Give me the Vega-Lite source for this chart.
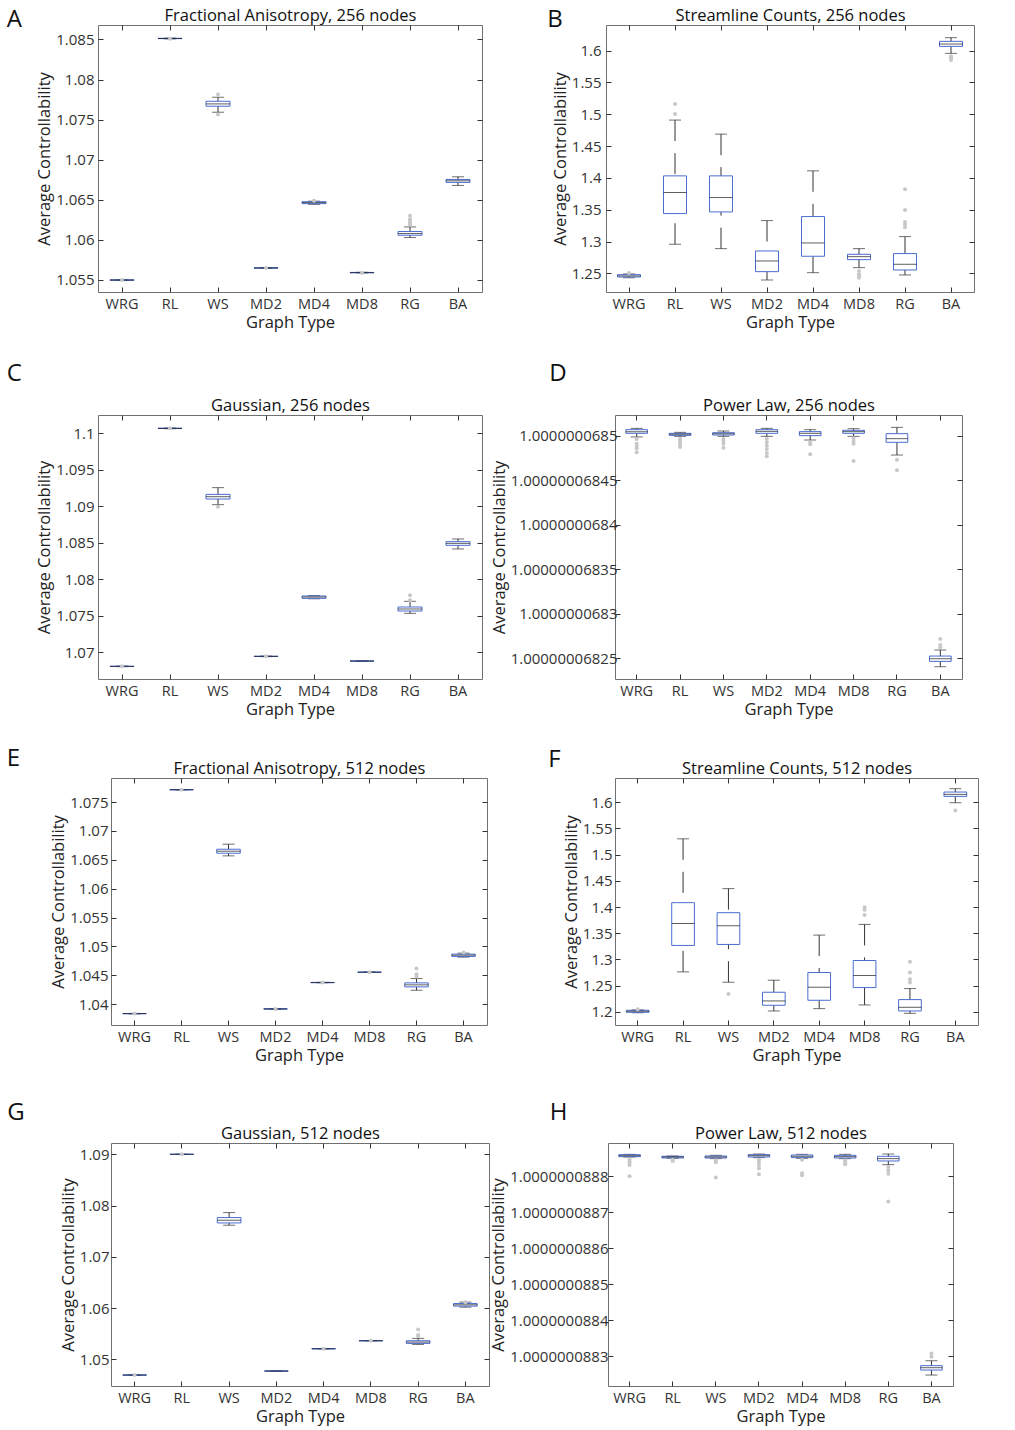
{
"$schema": "https://vega.github.io/schema/vega-lite/v6.json",
"background": "white",
"padding": {"top": 7, "left": 5, "right": 10, "bottom": 4},
"config": {
 "font": "Open Sans",
 "view": {"stroke": "#707070", "strokeWidth": 1},
 "axis": {"grid": false, "domain": false, "labelFont": "Open Sans", "titleFont": "Open Sans", "labelColor": "#333", "titleColor": "#222", "tickColor": "#333", "labelFontSize": 15, "titleFontSize": 16.5, "titleFontWeight": "normal", "tickSize": -5},
 "title": {"font": "Open Sans", "fontWeight": "normal", "color": "#111"},
 "tick": {"thickness": 1}
},
"datasets": {
 "A": [
  {"g":"WRG","lw":1.05493,"q1":1.05496,"med":1.05499,"q3":1.05502,"uw":1.05505},
  {"g":"RL","lw":1.08507,"q1":1.0851,"med":1.08512,"q3":1.08514,"uw":1.08517},
  {"g":"WS","lw":1.07592,"q1":1.07667,"med":1.07696,"q3":1.07729,"uw":1.07779},
  {"g":"MD2","lw":1.05646,"q1":1.05648,"med":1.0565,"q3":1.05652,"uw":1.05654},
  {"g":"MD4","lw":1.06443,"q1":1.06452,"med":1.06465,"q3":1.06476,"uw":1.06483},
  {"g":"MD8","lw":1.05588,"q1":1.0559,"med":1.05592,"q3":1.05594,"uw":1.05596},
  {"g":"RG","lw":1.06029,"q1":1.06058,"med":1.06079,"q3":1.06104,"uw":1.06162},
  {"g":"BA","lw":1.06679,"q1":1.06717,"med":1.06737,"q3":1.06754,"uw":1.06787}
 ],
 "A_out": [
  {"g":"WRG","v":1.05499},{"g":"RL","v":1.0851},{"g":"WS","v":1.07812},{"g":"WS","v":1.07563},
  {"g":"MD2","v":1.0565},{"g":"MD4","v":1.06487},{"g":"MD8","v":1.05588},
  {"g":"RG","v":1.063},{"g":"RG","v":1.06258},{"g":"RG","v":1.0624},{"g":"RG","v":1.0622},{"g":"RG","v":1.062},{"g":"RG","v":1.0619}
 ],
 "B": [
  {"g":"WRG","lw":1.243,"q1":1.2442,"med":1.2459,"q3":1.2479,"uw":1.249},
  {"g":"RL","lw":1.2957,"q1":1.3439,"med":1.377,"q3":1.4032,"uw":1.4909},
  {"g":"WS","lw":1.2888,"q1":1.3465,"med":1.3691,"q3":1.4032,"uw":1.4688},
  {"g":"MD2","lw":1.2395,"q1":1.2526,"med":1.2694,"q3":1.2851,"uw":1.3329},
  {"g":"MD4","lw":1.251,"q1":1.2768,"med":1.2977,"q3":1.3392,"uw":1.4111},
  {"g":"MD8","lw":1.2589,"q1":1.2715,"med":1.2762,"q3":1.2799,"uw":1.2888},
  {"g":"RG","lw":1.2474,"q1":1.2552,"med":1.2642,"q3":1.281,"uw":1.3077},
  {"g":"BA","lw":1.5958,"q1":1.6068,"med":1.6105,"q3":1.6147,"uw":1.6205}
 ],
 "B_out": [
  {"g":"WRG","v":1.2505},{"g":"RL","v":1.516},{"g":"RL","v":1.5003},
  {"g":"MD8","v":1.2537},{"g":"MD8","v":1.2485},{"g":"MD8","v":1.2455},{"g":"MD8","v":1.2432},
  {"g":"RG","v":1.3822},{"g":"RG","v":1.3497},{"g":"RG","v":1.3308},{"g":"RG","v":1.3266},{"g":"RG","v":1.3224},
  {"g":"BA","v":1.5911},{"g":"BA","v":1.588},{"g":"BA","v":1.5853}
 ],
 "C": [
  {"g":"WRG","lw":1.06804,"q1":1.06806,"med":1.06808,"q3":1.0681,"uw":1.06812},
  {"g":"RL","lw":1.10063,"q1":1.10066,"med":1.10068,"q3":1.1007,"uw":1.10073},
  {"g":"WS","lw":1.09023,"q1":1.091,"med":1.09132,"q3":1.09164,"uw":1.09256},
  {"g":"MD2","lw":1.06941,"q1":1.06943,"med":1.06945,"q3":1.06947,"uw":1.06949},
  {"g":"MD4","lw":1.07734,"q1":1.0774,"med":1.07758,"q3":1.07772,"uw":1.07778},
  {"g":"MD8","lw":1.06879,"q1":1.0688,"med":1.06881,"q3":1.06882,"uw":1.06883},
  {"g":"RG","lw":1.07534,"q1":1.07566,"med":1.07594,"q3":1.07621,"uw":1.07699},
  {"g":"BA","lw":1.08416,"q1":1.08466,"med":1.08493,"q3":1.08516,"uw":1.08553}
 ],
 "C_out": [
  {"g":"WRG","v":1.06808},{"g":"RL","v":1.10068},{"g":"WS","v":1.08995},{"g":"MD2","v":1.06945},
  {"g":"RG","v":1.07781},{"g":"RG","v":1.07712}
 ],
 "D": [
  {"g":"WRG","lw":1.0000000684989,"q1":1.000000068503,"med":1.0000000685049,"q3":1.0000000685071,"uw":1.0000000685086},
  {"g":"RL","lw":1.0000000684996,"q1":1.0000000685007,"med":1.0000000685019,"q3":1.000000068503,"uw":1.0000000685041},
  {"g":"WS","lw":1.0000000684996,"q1":1.0000000685011,"med":1.0000000685026,"q3":1.0000000685037,"uw":1.0000000685056},
  {"g":"MD2","lw":1.0000000684996,"q1":1.000000068503,"med":1.0000000685052,"q3":1.0000000685071,"uw":1.0000000685086},
  {"g":"MD4","lw":1.0000000684955,"q1":1.0000000685004,"med":1.000000068503,"q3":1.0000000685049,"uw":1.0000000685071},
  {"g":"MD8","lw":1.0000000684996,"q1":1.000000068503,"med":1.0000000685049,"q3":1.0000000685064,"uw":1.0000000685082},
  {"g":"RG","lw":1.0000000684786,"q1":1.0000000684929,"med":1.000000068497,"q3":1.0000000685026,"uw":1.0000000685097},
  {"g":"BA","lw":1.0000000682406,"q1":1.0000000682466,"med":1.0000000682496,"q3":1.0000000682526,"uw":1.0000000682594}
 ],
 "D_out": [
  {"g":"WRG","v":1.0000000684966},{"g":"WRG","v":1.0000000684914},{"g":"WRG","v":1.0000000684888},{"g":"WRG","v":1.0000000684861},{"g":"WRG","v":1.0000000684816},
  {"g":"RL","v":1.0000000684966},{"g":"RL","v":1.0000000684936},{"g":"RL","v":1.0000000684906},{"g":"RL","v":1.0000000684876},
  {"g":"WS","v":1.0000000684966},{"g":"WS","v":1.0000000684944},{"g":"WS","v":1.0000000684914},{"g":"WS","v":1.0000000684869},
  {"g":"MD2","v":1.0000000684966},{"g":"MD2","v":1.0000000684929},{"g":"MD2","v":1.0000000684891},{"g":"MD2","v":1.0000000684854},{"g":"MD2","v":1.0000000684809},{"g":"MD2","v":1.0000000684771},
  {"g":"MD4","v":1.0000000684929},{"g":"MD4","v":1.0000000684906},{"g":"MD4","v":1.0000000684794},
  {"g":"MD8","v":1.0000000684974},{"g":"MD8","v":1.0000000684944},{"g":"MD8","v":1.0000000684914},{"g":"MD8","v":1.0000000684719},
  {"g":"RG","v":1.0000000684734},{"g":"RG","v":1.0000000684614},
  {"g":"BA","v":1.0000000682717},{"g":"BA","v":1.0000000682649},{"g":"BA","v":1.0000000682624}
 ],
 "E": [
  {"g":"WRG","lw":1.03834,"q1":1.03836,"med":1.03838,"q3":1.0384,"uw":1.03842},
  {"g":"RL","lw":1.0771,"q1":1.07712,"med":1.07714,"q3":1.07716,"uw":1.07718},
  {"g":"WS","lw":1.06569,"q1":1.06615,"med":1.0665,"q3":1.06684,"uw":1.06771},
  {"g":"MD2","lw":1.03915,"q1":1.03917,"med":1.03919,"q3":1.03921,"uw":1.03923},
  {"g":"MD4","lw":1.04372,"q1":1.04374,"med":1.04376,"q3":1.04378,"uw":1.0438},
  {"g":"MD8","lw":1.04551,"q1":1.04553,"med":1.04555,"q3":1.04557,"uw":1.04559},
  {"g":"RG","lw":1.04243,"q1":1.04301,"med":1.04336,"q3":1.0437,"uw":1.04445},
  {"g":"BA","lw":1.04816,"q1":1.04828,"med":1.0485,"q3":1.04868,"uw":1.04885}
 ],
 "E_out": [
  {"g":"WRG","v":1.03838},{"g":"RL","v":1.07714},{"g":"MD2","v":1.03919},{"g":"MD4","v":1.04376},{"g":"MD8","v":1.04555},
  {"g":"RG","v":1.04619},{"g":"RG","v":1.04521},{"g":"RG","v":1.0448},{"g":"BA","v":1.04897}
 ],
 "F": [
  {"g":"WRG","lw":1.1985,"q1":1.19936,"med":1.20127,"q3":1.20318,"uw":1.204},
  {"g":"RL","lw":1.27643,"q1":1.32675,"med":1.36879,"q3":1.40828,"uw":1.52994},
  {"g":"WS","lw":1.25669,"q1":1.32866,"med":1.36433,"q3":1.38917,"uw":1.43503},
  {"g":"MD2","lw":1.20191,"q1":1.21274,"med":1.22102,"q3":1.23758,"uw":1.26051},
  {"g":"MD4","lw":1.20637,"q1":1.22229,"med":1.24713,"q3":1.27516,"uw":1.3465},
  {"g":"MD8","lw":1.21338,"q1":1.2465,"med":1.26943,"q3":1.29809,"uw":1.36688},
  {"g":"RG","lw":1.19745,"q1":1.20191,"med":1.20892,"q3":1.22357,"uw":1.24459},
  {"g":"BA","lw":1.59873,"q1":1.61083,"med":1.61465,"q3":1.61911,"uw":1.62548}
 ],
 "F_out": [
  {"g":"WRG","v":1.205},{"g":"WS","v":1.23439},
  {"g":"MD8","v":1.39936},{"g":"MD8","v":1.3949},{"g":"MD8","v":1.38471},
  {"g":"RG","v":1.29554},{"g":"RG","v":1.27516},{"g":"RG","v":1.26242},{"g":"RG","v":1.25605},
  {"g":"BA","v":1.58408}
 ],
 "G": [
  {"g":"WRG","lw":1.04691,"q1":1.04693,"med":1.04695,"q3":1.04697,"uw":1.04699},
  {"g":"RL","lw":1.08996,"q1":1.08998,"med":1.09,"q3":1.09002,"uw":1.09004},
  {"g":"WS","lw":1.07617,"q1":1.07662,"med":1.07714,"q3":1.07766,"uw":1.07864},
  {"g":"MD2","lw":1.04769,"q1":1.04771,"med":1.04773,"q3":1.04775,"uw":1.04777},
  {"g":"MD4","lw":1.05204,"q1":1.05206,"med":1.05208,"q3":1.0521,"uw":1.05212},
  {"g":"MD8","lw":1.0536,"q1":1.05362,"med":1.05364,"q3":1.05366,"uw":1.05368},
  {"g":"RG","lw":1.05292,"q1":1.05312,"med":1.05338,"q3":1.05364,"uw":1.05409},
  {"g":"BA","lw":1.06019,"q1":1.06039,"med":1.06065,"q3":1.06091,"uw":1.06117}
 ],
 "G_out": [
  {"g":"WRG","v":1.04695},{"g":"RL","v":1.09},{"g":"MD4","v":1.05208},{"g":"MD8","v":1.05364},
  {"g":"RG","v":1.05584},{"g":"RG","v":1.05474},{"g":"RG","v":1.0545},{"g":"BA","v":1.06117}
 ],
 "H": [
  {"g":"WRG","lw":1.0000000888537,"q1":1.0000000888546,"med":1.0000000888574,"q3":1.0000000888602,"uw":1.0000000888611},
  {"g":"RL","lw":1.00000008885,"q1":1.0000000888509,"med":1.0000000888537,"q3":1.0000000888556,"uw":1.0000000888565},
  {"g":"WS","lw":1.0000000888491,"q1":1.0000000888509,"med":1.0000000888537,"q3":1.0000000888565,"uw":1.0000000888583},
  {"g":"MD2","lw":1.0000000888519,"q1":1.0000000888537,"med":1.0000000888574,"q3":1.0000000888602,"uw":1.000000088862},
  {"g":"MD4","lw":1.00000008885,"q1":1.0000000888519,"med":1.0000000888556,"q3":1.0000000888593,"uw":1.0000000888611},
  {"g":"MD8","lw":1.0000000888491,"q1":1.0000000888509,"med":1.0000000888546,"q3":1.0000000888583,"uw":1.0000000888611},
  {"g":"RG","lw":1.0000000888324,"q1":1.0000000888426,"med":1.0000000888491,"q3":1.0000000888556,"uw":1.000000088862},
  {"g":"BA","lw":1.0000000882472,"q1":1.0000000882611,"med":1.0000000882676,"q3":1.0000000882732,"uw":1.000000088287}
 ],
 "H_out": [
  {"g":"WRG","v":1.0000000888463},{"g":"WRG","v":1.0000000888389},{"g":"WRG","v":1.0000000888315},{"g":"WRG","v":1.0000000888},
  {"g":"RL","v":1.0000000888463},{"g":"RL","v":1.0000000888426},
  {"g":"WS","v":1.0000000888444},{"g":"WS","v":1.0000000888389},{"g":"WS","v":1.0000000887963},
  {"g":"MD2","v":1.0000000888463},{"g":"MD2","v":1.0000000888389},{"g":"MD2","v":1.0000000888315},{"g":"MD2","v":1.0000000888222},{"g":"MD2","v":1.0000000888056},
  {"g":"MD4","v":1.0000000888463},{"g":"MD4","v":1.0000000888083},{"g":"MD4","v":1.0000000888028},
  {"g":"MD8","v":1.0000000888444},{"g":"MD8","v":1.0000000888389},{"g":"MD8","v":1.0000000888333},
  {"g":"RG","v":1.0000000888259},{"g":"RG","v":1.0000000888167},{"g":"RG","v":1.0000000888074},{"g":"RG","v":1.0000000887296},
  {"g":"BA","v":1.0000000883074},{"g":"BA","v":1.0000000882981}
 ],
 "none": []
},
"spacing": 29,
"vconcat": [
 {"spacing": 0, "hconcat": [
 {"width": 1, "height": 1, "view": {"stroke": null}, "data": {"name": "none"}, "mark": {"type": "point", "opacity": 0}, "encoding": {}},
 {"hconcat": [
  {"title": {"text": "A", "anchor": "start", "frame": "bounds", "fontSize": 24, "offset": 0, "dx": -30, "dy": 24.3},
   "width": 384, "height": 267,
   "resolve": {"axis": {"x": "independent", "y": "independent"}},
   "layer": [
    {"data": {"name": "A"}, "mark": {"type": "rule", "color": "#333", "strokeDash": [21, 12]},
     "encoding": {"x": {"field": "g", "type": "nominal", "scale": {"domain": ["WRG","RL","WS","MD2","MD4","MD8","RG","BA"], "paddingInner": 0, "paddingOuter": 0}, "axis": {"orient": "bottom", "labelAngle": 0, "labelPadding": 10, "labelFontSize": 14.5, "title": "Graph Type", "titlePadding": 4}},
      "y": {"field": "lw", "type": "quantitative", "scale": {"domain": [1.0535, 1.0868], "nice": false, "zero": false}, "axis": {"orient": "left", "values": [1.055,1.06,1.065,1.07,1.075,1.08,1.085], "format": ".3~f", "labelPadding": 9, "title": "Average Controllability", "titlePadding": 3}},
      "y2": {"field": "q1"}}},
    {"data": {"name": "A"}, "mark": {"type": "rule", "color": "#333", "strokeDash": [21, 12]},
     "encoding": {"x": {"field": "g", "type": "nominal", "scale": {"domain": ["WRG","RL","WS","MD2","MD4","MD8","RG","BA"], "paddingInner": 0, "paddingOuter": 0}, "axis": null},
      "y": {"field": "uw", "type": "quantitative", "scale": {"domain": [1.0535, 1.0868], "nice": false, "zero": false}, "axis": null},
      "y2": {"field": "q3"}}},
    {"data": {"name": "A"}, "mark": {"type": "tick", "size": 12, "color": "#333"},
     "encoding": {"x": {"field": "g", "type": "nominal", "scale": {"domain": ["WRG","RL","WS","MD2","MD4","MD8","RG","BA"], "paddingInner": 0, "paddingOuter": 0}, "axis": null},
      "y": {"field": "lw", "type": "quantitative", "scale": {"domain": [1.0535, 1.0868], "nice": false, "zero": false}, "axis": null}}},
    {"data": {"name": "A"}, "mark": {"type": "tick", "size": 12, "color": "#333"},
     "encoding": {"x": {"field": "g", "type": "nominal", "scale": {"domain": ["WRG","RL","WS","MD2","MD4","MD8","RG","BA"], "paddingInner": 0, "paddingOuter": 0}, "axis": null},
      "y": {"field": "uw", "type": "quantitative", "scale": {"domain": [1.0535, 1.0868], "nice": false, "zero": false}, "axis": null}}},
    {"data": {"name": "A"}, "mark": {"type": "bar", "filled": false, "color": "#4a6ccf", "strokeWidth": 1, "width": {"band": 0.5}},
     "encoding": {"x": {"field": "g", "type": "nominal", "scale": {"domain": ["WRG","RL","WS","MD2","MD4","MD8","RG","BA"], "paddingInner": 0, "paddingOuter": 0}, "axis": null},
      "y": {"field": "q1", "type": "quantitative", "scale": {"domain": [1.0535, 1.0868], "nice": false, "zero": false}, "axis": null},
      "y2": {"field": "q3"}}},
    {"data": {"name": "A"}, "mark": {"type": "tick", "size": 24, "color": "#1a1a1a"},
     "encoding": {"x": {"field": "g", "type": "nominal", "scale": {"domain": ["WRG","RL","WS","MD2","MD4","MD8","RG","BA"], "paddingInner": 0, "paddingOuter": 0}, "axis": {"orient": "top", "labels": false, "title": "Fractional Anisotropy, 256 nodes", "titlePadding": 1, "titleColor": "#111"}},
      "y": {"field": "med", "type": "quantitative", "scale": {"domain": [1.0535, 1.0868], "nice": false, "zero": false}, "axis": {"orient": "right", "values": [1.055,1.06,1.065,1.07,1.075,1.08,1.085], "labels": false, "title": null, "minExtent": 0}}}},
    {"data": {"name": "A_out"}, "mark": {"type": "circle", "size": 16, "color": "#c8c8c8", "opacity": 1},
     "encoding": {"x": {"field": "g", "type": "nominal", "scale": {"domain": ["WRG","RL","WS","MD2","MD4","MD8","RG","BA"], "paddingInner": 0, "paddingOuter": 0}, "axis": null},
      "y": {"field": "v", "type": "quantitative", "scale": {"domain": [1.0535, 1.0868], "nice": false, "zero": false}, "axis": null}}}
   ]},
  {"title": {"text": "B", "anchor": "start", "frame": "bounds", "fontSize": 24, "offset": 0, "dx": -5, "dy": 24.3},
   "width": 368, "height": 267,
   "resolve": {"axis": {"x": "independent", "y": "independent"}},
   "layer": [
    {"data": {"name": "B"}, "mark": {"type": "rule", "color": "#333", "strokeDash": [21, 12]},
     "encoding": {"x": {"field": "g", "type": "nominal", "scale": {"domain": ["WRG","RL","WS","MD2","MD4","MD8","RG","BA"], "paddingInner": 0, "paddingOuter": 0}, "axis": {"orient": "bottom", "labelAngle": 0, "labelPadding": 10, "labelFontSize": 14.5, "title": "Graph Type", "titlePadding": 4}},
      "y": {"field": "lw", "type": "quantitative", "scale": {"domain": [1.2206, 1.6404], "nice": false, "zero": false}, "axis": {"orient": "left", "values": [1.25,1.3,1.35,1.4,1.45,1.5,1.55,1.6], "format": ".2~f", "labelPadding": 10, "title": "Average Controllability", "titlePadding": 3}},
      "y2": {"field": "q1"}}},
    {"data": {"name": "B"}, "mark": {"type": "rule", "color": "#333", "strokeDash": [21, 12]},
     "encoding": {"x": {"field": "g", "type": "nominal", "scale": {"domain": ["WRG","RL","WS","MD2","MD4","MD8","RG","BA"], "paddingInner": 0, "paddingOuter": 0}, "axis": null},
      "y": {"field": "uw", "type": "quantitative", "scale": {"domain": [1.2206, 1.6404], "nice": false, "zero": false}, "axis": null},
      "y2": {"field": "q3"}}},
    {"data": {"name": "B"}, "mark": {"type": "tick", "size": 12, "color": "#333"},
     "encoding": {"x": {"field": "g", "type": "nominal", "scale": {"domain": ["WRG","RL","WS","MD2","MD4","MD8","RG","BA"], "paddingInner": 0, "paddingOuter": 0}, "axis": null},
      "y": {"field": "lw", "type": "quantitative", "scale": {"domain": [1.2206, 1.6404], "nice": false, "zero": false}, "axis": null}}},
    {"data": {"name": "B"}, "mark": {"type": "tick", "size": 12, "color": "#333"},
     "encoding": {"x": {"field": "g", "type": "nominal", "scale": {"domain": ["WRG","RL","WS","MD2","MD4","MD8","RG","BA"], "paddingInner": 0, "paddingOuter": 0}, "axis": null},
      "y": {"field": "uw", "type": "quantitative", "scale": {"domain": [1.2206, 1.6404], "nice": false, "zero": false}, "axis": null}}},
    {"data": {"name": "B"}, "mark": {"type": "bar", "filled": false, "color": "#4a6ccf", "strokeWidth": 1, "width": {"band": 0.5}},
     "encoding": {"x": {"field": "g", "type": "nominal", "scale": {"domain": ["WRG","RL","WS","MD2","MD4","MD8","RG","BA"], "paddingInner": 0, "paddingOuter": 0}, "axis": null},
      "y": {"field": "q1", "type": "quantitative", "scale": {"domain": [1.2206, 1.6404], "nice": false, "zero": false}, "axis": null},
      "y2": {"field": "q3"}}},
    {"data": {"name": "B"}, "mark": {"type": "tick", "size": 23, "color": "#1a1a1a"},
     "encoding": {"x": {"field": "g", "type": "nominal", "scale": {"domain": ["WRG","RL","WS","MD2","MD4","MD8","RG","BA"], "paddingInner": 0, "paddingOuter": 0}, "axis": {"orient": "top", "labels": false, "title": "Streamline Counts, 256 nodes", "titlePadding": 1, "titleColor": "#111"}},
      "y": {"field": "med", "type": "quantitative", "scale": {"domain": [1.2206, 1.6404], "nice": false, "zero": false}, "axis": {"orient": "right", "values": [1.25,1.3,1.35,1.4,1.45,1.5,1.55,1.6], "labels": false, "title": null, "minExtent": 0}}}},
    {"data": {"name": "B_out"}, "mark": {"type": "circle", "size": 16, "color": "#c8c8c8", "opacity": 1},
     "encoding": {"x": {"field": "g", "type": "nominal", "scale": {"domain": ["WRG","RL","WS","MD2","MD4","MD8","RG","BA"], "paddingInner": 0, "paddingOuter": 0}, "axis": null},
      "y": {"field": "v", "type": "quantitative", "scale": {"domain": [1.2206, 1.6404], "nice": false, "zero": false}, "axis": null}}}
   ]}
 ], "spacing": 63, "align": "each"}
 ]},
 {"spacing": 27, "vconcat": [
  {"spacing": 0, "hconcat": [
  {"width": 1, "height": 1, "view": {"stroke": null}, "data": {"name": "none"}, "mark": {"type": "point", "opacity": 0}, "encoding": {}},
  {"hconcat": [
   {"title": {"text": "C", "anchor": "start", "frame": "bounds", "fontSize": 24, "offset": 0, "dx": -30, "dy": -11.3},
    "width": 384, "height": 264,
    "resolve": {"axis": {"x": "independent", "y": "independent"}},
    "layer": [
     {"data": {"name": "C"}, "mark": {"type": "rule", "color": "#333", "strokeDash": [21, 12]},
      "encoding": {"x": {"field": "g", "type": "nominal", "scale": {"domain": ["WRG","RL","WS","MD2","MD4","MD8","RG","BA"], "paddingInner": 0, "paddingOuter": 0}, "axis": {"orient": "bottom", "labelAngle": 0, "labelPadding": 10, "labelFontSize": 14.5, "title": "Graph Type", "titlePadding": 4}},
       "y": {"field": "lw", "type": "quantitative", "scale": {"domain": [1.06635, 1.10251], "nice": false, "zero": false}, "axis": {"orient": "left", "values": [1.07,1.075,1.08,1.085,1.09,1.095,1.1], "format": ".3~f", "labelPadding": 9, "title": "Average Controllability", "titlePadding": 3}},
       "y2": {"field": "q1"}}},
     {"data": {"name": "C"}, "mark": {"type": "rule", "color": "#333", "strokeDash": [21, 12]},
      "encoding": {"x": {"field": "g", "type": "nominal", "scale": {"domain": ["WRG","RL","WS","MD2","MD4","MD8","RG","BA"], "paddingInner": 0, "paddingOuter": 0}, "axis": null},
       "y": {"field": "uw", "type": "quantitative", "scale": {"domain": [1.06635, 1.10251], "nice": false, "zero": false}, "axis": null},
       "y2": {"field": "q3"}}},
     {"data": {"name": "C"}, "mark": {"type": "tick", "size": 12, "color": "#333"},
      "encoding": {"x": {"field": "g", "type": "nominal", "scale": {"domain": ["WRG","RL","WS","MD2","MD4","MD8","RG","BA"], "paddingInner": 0, "paddingOuter": 0}, "axis": null},
       "y": {"field": "lw", "type": "quantitative", "scale": {"domain": [1.06635, 1.10251], "nice": false, "zero": false}, "axis": null}}},
     {"data": {"name": "C"}, "mark": {"type": "tick", "size": 12, "color": "#333"},
      "encoding": {"x": {"field": "g", "type": "nominal", "scale": {"domain": ["WRG","RL","WS","MD2","MD4","MD8","RG","BA"], "paddingInner": 0, "paddingOuter": 0}, "axis": null},
       "y": {"field": "uw", "type": "quantitative", "scale": {"domain": [1.06635, 1.10251], "nice": false, "zero": false}, "axis": null}}},
     {"data": {"name": "C"}, "mark": {"type": "bar", "filled": false, "color": "#4a6ccf", "strokeWidth": 1, "width": {"band": 0.5}},
      "encoding": {"x": {"field": "g", "type": "nominal", "scale": {"domain": ["WRG","RL","WS","MD2","MD4","MD8","RG","BA"], "paddingInner": 0, "paddingOuter": 0}, "axis": null},
       "y": {"field": "q1", "type": "quantitative", "scale": {"domain": [1.06635, 1.10251], "nice": false, "zero": false}, "axis": null},
       "y2": {"field": "q3"}}},
     {"data": {"name": "C"}, "mark": {"type": "tick", "size": 24, "color": "#1a1a1a"},
      "encoding": {"x": {"field": "g", "type": "nominal", "scale": {"domain": ["WRG","RL","WS","MD2","MD4","MD8","RG","BA"], "paddingInner": 0, "paddingOuter": 0}, "axis": {"orient": "top", "labels": false, "title": "Gaussian, 256 nodes", "titlePadding": 1, "titleColor": "#111"}},
       "y": {"field": "med", "type": "quantitative", "scale": {"domain": [1.06635, 1.10251], "nice": false, "zero": false}, "axis": {"orient": "right", "values": [1.07,1.075,1.08,1.085,1.09,1.095,1.1], "labels": false, "title": null, "minExtent": 0}}}},
     {"data": {"name": "C_out"}, "mark": {"type": "circle", "size": 16, "color": "#c8c8c8", "opacity": 1},
      "encoding": {"x": {"field": "g", "type": "nominal", "scale": {"domain": ["WRG","RL","WS","MD2","MD4","MD8","RG","BA"], "paddingInner": 0, "paddingOuter": 0}, "axis": null},
       "y": {"field": "v", "type": "quantitative", "scale": {"domain": [1.06635, 1.10251], "nice": false, "zero": false}, "axis": null}}}
    ]},
   {"title": {"text": "D", "anchor": "start", "frame": "bounds", "fontSize": 24, "offset": 0, "dx": 58, "dy": -12},
    "width": 347, "height": 264,
    "resolve": {"axis": {"x": "independent", "y": "independent"}},
    "layer": [
     {"data": {"name": "D"}, "mark": {"type": "rule", "color": "#333", "strokeDash": [21, 12]},
      "encoding": {"x": {"field": "g", "type": "nominal", "scale": {"domain": ["WRG","RL","WS","MD2","MD4","MD8","RG","BA"], "paddingInner": 0, "paddingOuter": 0}, "axis": {"orient": "bottom", "labelAngle": 0, "labelPadding": 10, "labelFontSize": 14.5, "title": "Graph Type", "titlePadding": 4}},
       "y": {"field": "lw", "type": "quantitative", "scale": {"domain": [1.0000000682268, 1.0000000685236], "nice": false, "zero": false}, "axis": {"orient": "left", "values": [1.00000006825,1.0000000683,1.00000006835,1.0000000684,1.00000006845,1.0000000685], "format": ".11~f", "labelPadding": 3, "title": "Average Controllability", "titlePadding": 3}},
       "y2": {"field": "q1"}}},
     {"data": {"name": "D"}, "mark": {"type": "rule", "color": "#333", "strokeDash": [21, 12]},
      "encoding": {"x": {"field": "g", "type": "nominal", "scale": {"domain": ["WRG","RL","WS","MD2","MD4","MD8","RG","BA"], "paddingInner": 0, "paddingOuter": 0}, "axis": null},
       "y": {"field": "uw", "type": "quantitative", "scale": {"domain": [1.0000000682268, 1.0000000685236], "nice": false, "zero": false}, "axis": null},
       "y2": {"field": "q3"}}},
     {"data": {"name": "D"}, "mark": {"type": "tick", "size": 12, "color": "#333"},
      "encoding": {"x": {"field": "g", "type": "nominal", "scale": {"domain": ["WRG","RL","WS","MD2","MD4","MD8","RG","BA"], "paddingInner": 0, "paddingOuter": 0}, "axis": null},
       "y": {"field": "lw", "type": "quantitative", "scale": {"domain": [1.0000000682268, 1.0000000685236], "nice": false, "zero": false}, "axis": null}}},
     {"data": {"name": "D"}, "mark": {"type": "tick", "size": 12, "color": "#333"},
      "encoding": {"x": {"field": "g", "type": "nominal", "scale": {"domain": ["WRG","RL","WS","MD2","MD4","MD8","RG","BA"], "paddingInner": 0, "paddingOuter": 0}, "axis": null},
       "y": {"field": "uw", "type": "quantitative", "scale": {"domain": [1.0000000682268, 1.0000000685236], "nice": false, "zero": false}, "axis": null}}},
     {"data": {"name": "D"}, "mark": {"type": "bar", "filled": false, "color": "#4a6ccf", "strokeWidth": 1, "width": {"band": 0.5}},
      "encoding": {"x": {"field": "g", "type": "nominal", "scale": {"domain": ["WRG","RL","WS","MD2","MD4","MD8","RG","BA"], "paddingInner": 0, "paddingOuter": 0}, "axis": null},
       "y": {"field": "q1", "type": "quantitative", "scale": {"domain": [1.0000000682268, 1.0000000685236], "nice": false, "zero": false}, "axis": null},
       "y2": {"field": "q3"}}},
     {"data": {"name": "D"}, "mark": {"type": "tick", "size": 21.7, "color": "#1a1a1a"},
      "encoding": {"x": {"field": "g", "type": "nominal", "scale": {"domain": ["WRG","RL","WS","MD2","MD4","MD8","RG","BA"], "paddingInner": 0, "paddingOuter": 0}, "axis": {"orient": "top", "labels": false, "title": "Power Law, 256 nodes", "titlePadding": 1, "titleColor": "#111"}},
       "y": {"field": "med", "type": "quantitative", "scale": {"domain": [1.0000000682268, 1.0000000685236], "nice": false, "zero": false}, "axis": {"orient": "right", "values": [1.00000006825,1.0000000683,1.00000006835,1.0000000684,1.00000006845,1.0000000685], "labels": false, "title": null, "minExtent": 0}}}},
     {"data": {"name": "D_out"}, "mark": {"type": "circle", "size": 16, "color": "#c8c8c8", "opacity": 1},
      "encoding": {"x": {"field": "g", "type": "nominal", "scale": {"domain": ["WRG","RL","WS","MD2","MD4","MD8","RG","BA"], "paddingInner": 0, "paddingOuter": 0}, "axis": null},
       "y": {"field": "v", "type": "quantitative", "scale": {"domain": [1.0000000682268, 1.0000000685236], "nice": false, "zero": false}, "axis": null}}}
    ]}
  ], "spacing": 7, "align": "each"}
  ]},
  {"spacing": 35, "vconcat": [
   {"spacing": 0, "hconcat": [
   {"width": 1, "height": 1, "view": {"stroke": null}, "data": {"name": "none"}, "mark": {"type": "point", "opacity": 0}, "encoding": {}},
   {"hconcat": [
    {"title": {"text": "E", "anchor": "start", "frame": "bounds", "fontSize": 24, "offset": 0, "dx": -44, "dy": 10},
     "width": 376, "height": 247,
     "resolve": {"axis": {"x": "independent", "y": "independent"}},
     "layer": [
      {"data": {"name": "E"}, "mark": {"type": "rule", "color": "#333", "strokeDash": [21, 12]},
       "encoding": {"x": {"field": "g", "type": "nominal", "scale": {"domain": ["WRG","RL","WS","MD2","MD4","MD8","RG","BA"], "paddingInner": 0, "paddingOuter": 0}, "axis": {"orient": "bottom", "labelAngle": 0, "labelPadding": 10, "labelFontSize": 14.5, "title": "Graph Type", "titlePadding": 4}},
        "y": {"field": "lw", "type": "quantitative", "scale": {"domain": [1.03641, 1.07917], "nice": false, "zero": false}, "axis": {"orient": "left", "values": [1.04,1.045,1.05,1.055,1.06,1.065,1.07,1.075], "format": ".3~f", "labelPadding": 8, "title": "Average Controllability", "titlePadding": 3}},
        "y2": {"field": "q1"}}},
      {"data": {"name": "E"}, "mark": {"type": "rule", "color": "#333", "strokeDash": [21, 12]},
       "encoding": {"x": {"field": "g", "type": "nominal", "scale": {"domain": ["WRG","RL","WS","MD2","MD4","MD8","RG","BA"], "paddingInner": 0, "paddingOuter": 0}, "axis": null},
        "y": {"field": "uw", "type": "quantitative", "scale": {"domain": [1.03641, 1.07917], "nice": false, "zero": false}, "axis": null},
        "y2": {"field": "q3"}}},
      {"data": {"name": "E"}, "mark": {"type": "tick", "size": 12, "color": "#333"},
       "encoding": {"x": {"field": "g", "type": "nominal", "scale": {"domain": ["WRG","RL","WS","MD2","MD4","MD8","RG","BA"], "paddingInner": 0, "paddingOuter": 0}, "axis": null},
        "y": {"field": "lw", "type": "quantitative", "scale": {"domain": [1.03641, 1.07917], "nice": false, "zero": false}, "axis": null}}},
      {"data": {"name": "E"}, "mark": {"type": "tick", "size": 12, "color": "#333"},
       "encoding": {"x": {"field": "g", "type": "nominal", "scale": {"domain": ["WRG","RL","WS","MD2","MD4","MD8","RG","BA"], "paddingInner": 0, "paddingOuter": 0}, "axis": null},
        "y": {"field": "uw", "type": "quantitative", "scale": {"domain": [1.03641, 1.07917], "nice": false, "zero": false}, "axis": null}}},
      {"data": {"name": "E"}, "mark": {"type": "bar", "filled": false, "color": "#4a6ccf", "strokeWidth": 1, "width": {"band": 0.5}},
       "encoding": {"x": {"field": "g", "type": "nominal", "scale": {"domain": ["WRG","RL","WS","MD2","MD4","MD8","RG","BA"], "paddingInner": 0, "paddingOuter": 0}, "axis": null},
        "y": {"field": "q1", "type": "quantitative", "scale": {"domain": [1.03641, 1.07917], "nice": false, "zero": false}, "axis": null},
        "y2": {"field": "q3"}}},
      {"data": {"name": "E"}, "mark": {"type": "tick", "size": 23.5, "color": "#1a1a1a"},
       "encoding": {"x": {"field": "g", "type": "nominal", "scale": {"domain": ["WRG","RL","WS","MD2","MD4","MD8","RG","BA"], "paddingInner": 0, "paddingOuter": 0}, "axis": {"orient": "top", "labels": false, "title": "Fractional Anisotropy, 512 nodes", "titlePadding": 1, "titleColor": "#111"}},
        "y": {"field": "med", "type": "quantitative", "scale": {"domain": [1.03641, 1.07917], "nice": false, "zero": false}, "axis": {"orient": "right", "values": [1.04,1.045,1.05,1.055,1.06,1.065,1.07,1.075], "labels": false, "title": null, "minExtent": 0}}}},
      {"data": {"name": "E_out"}, "mark": {"type": "circle", "size": 16, "color": "#c8c8c8", "opacity": 1},
       "encoding": {"x": {"field": "g", "type": "nominal", "scale": {"domain": ["WRG","RL","WS","MD2","MD4","MD8","RG","BA"], "paddingInner": 0, "paddingOuter": 0}, "axis": null},
        "y": {"field": "v", "type": "quantitative", "scale": {"domain": [1.03641, 1.07917], "nice": false, "zero": false}, "axis": null}}}
     ]},
    {"title": {"text": "F", "anchor": "start", "frame": "bounds", "fontSize": 24, "offset": 0, "dx": -15, "dy": 11},
     "width": 363, "height": 247,
     "resolve": {"axis": {"x": "independent", "y": "independent"}},
     "layer": [
      {"data": {"name": "F"}, "mark": {"type": "rule", "color": "#333", "strokeDash": [21, 12]},
       "encoding": {"x": {"field": "g", "type": "nominal", "scale": {"domain": ["WRG","RL","WS","MD2","MD4","MD8","RG","BA"], "paddingInner": 0, "paddingOuter": 0}, "axis": {"orient": "bottom", "labelAngle": 0, "labelPadding": 10, "labelFontSize": 14.5, "title": "Graph Type", "titlePadding": 4}},
        "y": {"field": "lw", "type": "quantitative", "scale": {"domain": [1.17516, 1.64586], "nice": false, "zero": false}, "axis": {"orient": "left", "values": [1.2,1.25,1.3,1.35,1.4,1.45,1.5,1.55,1.6], "format": ".2~f", "labelPadding": 8, "title": "Average Controllability", "titlePadding": 3}},
        "y2": {"field": "q1"}}},
      {"data": {"name": "F"}, "mark": {"type": "rule", "color": "#333", "strokeDash": [21, 12]},
       "encoding": {"x": {"field": "g", "type": "nominal", "scale": {"domain": ["WRG","RL","WS","MD2","MD4","MD8","RG","BA"], "paddingInner": 0, "paddingOuter": 0}, "axis": null},
        "y": {"field": "uw", "type": "quantitative", "scale": {"domain": [1.17516, 1.64586], "nice": false, "zero": false}, "axis": null},
        "y2": {"field": "q3"}}},
      {"data": {"name": "F"}, "mark": {"type": "tick", "size": 12, "color": "#333"},
       "encoding": {"x": {"field": "g", "type": "nominal", "scale": {"domain": ["WRG","RL","WS","MD2","MD4","MD8","RG","BA"], "paddingInner": 0, "paddingOuter": 0}, "axis": null},
        "y": {"field": "lw", "type": "quantitative", "scale": {"domain": [1.17516, 1.64586], "nice": false, "zero": false}, "axis": null}}},
      {"data": {"name": "F"}, "mark": {"type": "tick", "size": 12, "color": "#333"},
       "encoding": {"x": {"field": "g", "type": "nominal", "scale": {"domain": ["WRG","RL","WS","MD2","MD4","MD8","RG","BA"], "paddingInner": 0, "paddingOuter": 0}, "axis": null},
        "y": {"field": "uw", "type": "quantitative", "scale": {"domain": [1.17516, 1.64586], "nice": false, "zero": false}, "axis": null}}},
      {"data": {"name": "F"}, "mark": {"type": "bar", "filled": false, "color": "#4a6ccf", "strokeWidth": 1, "width": {"band": 0.5}},
       "encoding": {"x": {"field": "g", "type": "nominal", "scale": {"domain": ["WRG","RL","WS","MD2","MD4","MD8","RG","BA"], "paddingInner": 0, "paddingOuter": 0}, "axis": null},
        "y": {"field": "q1", "type": "quantitative", "scale": {"domain": [1.17516, 1.64586], "nice": false, "zero": false}, "axis": null},
        "y2": {"field": "q3"}}},
      {"data": {"name": "F"}, "mark": {"type": "tick", "size": 22.7, "color": "#1a1a1a"},
       "encoding": {"x": {"field": "g", "type": "nominal", "scale": {"domain": ["WRG","RL","WS","MD2","MD4","MD8","RG","BA"], "paddingInner": 0, "paddingOuter": 0}, "axis": {"orient": "top", "labels": false, "title": "Streamline Counts, 512 nodes", "titlePadding": 1, "titleColor": "#111"}},
        "y": {"field": "med", "type": "quantitative", "scale": {"domain": [1.17516, 1.64586], "nice": false, "zero": false}, "axis": {"orient": "right", "values": [1.2,1.25,1.3,1.35,1.4,1.45,1.5,1.55,1.6], "labels": false, "title": null, "minExtent": 0}}}},
      {"data": {"name": "F_out"}, "mark": {"type": "circle", "size": 16, "color": "#c8c8c8", "opacity": 1},
       "encoding": {"x": {"field": "g", "type": "nominal", "scale": {"domain": ["WRG","RL","WS","MD2","MD4","MD8","RG","BA"], "paddingInner": 0, "paddingOuter": 0}, "axis": null},
        "y": {"field": "v", "type": "quantitative", "scale": {"domain": [1.17516, 1.64586], "nice": false, "zero": false}, "axis": null}}}
     ]}
   ], "spacing": 59, "align": "each"}
   ]},
   {"spacing": 0, "hconcat": [
   {"width": 1, "height": 1, "view": {"stroke": null}, "data": {"name": "none"}, "mark": {"type": "point", "opacity": 0}, "encoding": {}},
   {"hconcat": [
    {"title": {"text": "G", "anchor": "start", "frame": "bounds", "fontSize": 24, "offset": 0, "dx": -53, "dy": -0.7},
     "width": 378, "height": 243,
     "resolve": {"axis": {"x": "independent", "y": "independent"}},
     "layer": [
      {"data": {"name": "G"}, "mark": {"type": "rule", "color": "#333", "strokeDash": [21, 12]},
       "encoding": {"x": {"field": "g", "type": "nominal", "scale": {"domain": ["WRG","RL","WS","MD2","MD4","MD8","RG","BA"], "paddingInner": 0, "paddingOuter": 0}, "axis": {"orient": "bottom", "labelAngle": 0, "labelPadding": 10, "labelFontSize": 14.5, "title": "Graph Type", "titlePadding": 4}},
        "y": {"field": "lw", "type": "quantitative", "scale": {"domain": [1.04481, 1.09221], "nice": false, "zero": false}, "axis": {"orient": "left", "values": [1.05,1.06,1.07,1.08,1.09], "format": ".2~f", "labelPadding": 7, "title": "Average Controllability", "titlePadding": 3}},
        "y2": {"field": "q1"}}},
      {"data": {"name": "G"}, "mark": {"type": "rule", "color": "#333", "strokeDash": [21, 12]},
       "encoding": {"x": {"field": "g", "type": "nominal", "scale": {"domain": ["WRG","RL","WS","MD2","MD4","MD8","RG","BA"], "paddingInner": 0, "paddingOuter": 0}, "axis": null},
        "y": {"field": "uw", "type": "quantitative", "scale": {"domain": [1.04481, 1.09221], "nice": false, "zero": false}, "axis": null},
        "y2": {"field": "q3"}}},
      {"data": {"name": "G"}, "mark": {"type": "tick", "size": 12, "color": "#333"},
       "encoding": {"x": {"field": "g", "type": "nominal", "scale": {"domain": ["WRG","RL","WS","MD2","MD4","MD8","RG","BA"], "paddingInner": 0, "paddingOuter": 0}, "axis": null},
        "y": {"field": "lw", "type": "quantitative", "scale": {"domain": [1.04481, 1.09221], "nice": false, "zero": false}, "axis": null}}},
      {"data": {"name": "G"}, "mark": {"type": "tick", "size": 12, "color": "#333"},
       "encoding": {"x": {"field": "g", "type": "nominal", "scale": {"domain": ["WRG","RL","WS","MD2","MD4","MD8","RG","BA"], "paddingInner": 0, "paddingOuter": 0}, "axis": null},
        "y": {"field": "uw", "type": "quantitative", "scale": {"domain": [1.04481, 1.09221], "nice": false, "zero": false}, "axis": null}}},
      {"data": {"name": "G"}, "mark": {"type": "bar", "filled": false, "color": "#4a6ccf", "strokeWidth": 1, "width": {"band": 0.5}},
       "encoding": {"x": {"field": "g", "type": "nominal", "scale": {"domain": ["WRG","RL","WS","MD2","MD4","MD8","RG","BA"], "paddingInner": 0, "paddingOuter": 0}, "axis": null},
        "y": {"field": "q1", "type": "quantitative", "scale": {"domain": [1.04481, 1.09221], "nice": false, "zero": false}, "axis": null},
        "y2": {"field": "q3"}}},
      {"data": {"name": "G"}, "mark": {"type": "tick", "size": 23.6, "color": "#1a1a1a"},
       "encoding": {"x": {"field": "g", "type": "nominal", "scale": {"domain": ["WRG","RL","WS","MD2","MD4","MD8","RG","BA"], "paddingInner": 0, "paddingOuter": 0}, "axis": {"orient": "top", "labels": false, "title": "Gaussian, 512 nodes", "titlePadding": 1, "titleColor": "#111"}},
        "y": {"field": "med", "type": "quantitative", "scale": {"domain": [1.04481, 1.09221], "nice": false, "zero": false}, "axis": {"orient": "right", "values": [1.05,1.06,1.07,1.08,1.09], "labels": false, "title": null, "minExtent": 0}}}},
      {"data": {"name": "G_out"}, "mark": {"type": "circle", "size": 16, "color": "#c8c8c8", "opacity": 1},
       "encoding": {"x": {"field": "g", "type": "nominal", "scale": {"domain": ["WRG","RL","WS","MD2","MD4","MD8","RG","BA"], "paddingInner": 0, "paddingOuter": 0}, "axis": null},
        "y": {"field": "v", "type": "quantitative", "scale": {"domain": [1.04481, 1.09221], "nice": false, "zero": false}, "axis": null}}}
     ]},
    {"title": {"text": "H", "anchor": "start", "frame": "bounds", "fontSize": 24, "offset": 0, "dx": 59, "dy": -0.7},
     "width": 345, "height": 243,
     "resolve": {"axis": {"x": "independent", "y": "independent"}},
     "layer": [
      {"data": {"name": "H"}, "mark": {"type": "rule", "color": "#333", "strokeDash": [21, 12]},
       "encoding": {"x": {"field": "g", "type": "nominal", "scale": {"domain": ["WRG","RL","WS","MD2","MD4","MD8","RG","BA"], "paddingInner": 0, "paddingOuter": 0}, "axis": {"orient": "bottom", "labelAngle": 0, "labelPadding": 10, "labelFontSize": 14.5, "title": "Graph Type", "titlePadding": 4}},
        "y": {"field": "lw", "type": "quantitative", "scale": {"domain": [1.0000000882167, 1.0000000888926], "nice": false, "zero": false}, "axis": {"orient": "left", "values": [1.0000000883,1.0000000884,1.0000000885,1.0000000886,1.0000000887,1.0000000888], "format": ".10~f", "labelPadding": 5, "title": "Average Controllability", "titlePadding": 3}},
        "y2": {"field": "q1"}}},
      {"data": {"name": "H"}, "mark": {"type": "rule", "color": "#333", "strokeDash": [21, 12]},
       "encoding": {"x": {"field": "g", "type": "nominal", "scale": {"domain": ["WRG","RL","WS","MD2","MD4","MD8","RG","BA"], "paddingInner": 0, "paddingOuter": 0}, "axis": null},
        "y": {"field": "uw", "type": "quantitative", "scale": {"domain": [1.0000000882167, 1.0000000888926], "nice": false, "zero": false}, "axis": null},
        "y2": {"field": "q3"}}},
      {"data": {"name": "H"}, "mark": {"type": "tick", "size": 12, "color": "#333"},
       "encoding": {"x": {"field": "g", "type": "nominal", "scale": {"domain": ["WRG","RL","WS","MD2","MD4","MD8","RG","BA"], "paddingInner": 0, "paddingOuter": 0}, "axis": null},
        "y": {"field": "lw", "type": "quantitative", "scale": {"domain": [1.0000000882167, 1.0000000888926], "nice": false, "zero": false}, "axis": null}}},
      {"data": {"name": "H"}, "mark": {"type": "tick", "size": 12, "color": "#333"},
       "encoding": {"x": {"field": "g", "type": "nominal", "scale": {"domain": ["WRG","RL","WS","MD2","MD4","MD8","RG","BA"], "paddingInner": 0, "paddingOuter": 0}, "axis": null},
        "y": {"field": "uw", "type": "quantitative", "scale": {"domain": [1.0000000882167, 1.0000000888926], "nice": false, "zero": false}, "axis": null}}},
      {"data": {"name": "H"}, "mark": {"type": "bar", "filled": false, "color": "#4a6ccf", "strokeWidth": 1, "width": {"band": 0.5}},
       "encoding": {"x": {"field": "g", "type": "nominal", "scale": {"domain": ["WRG","RL","WS","MD2","MD4","MD8","RG","BA"], "paddingInner": 0, "paddingOuter": 0}, "axis": null},
        "y": {"field": "q1", "type": "quantitative", "scale": {"domain": [1.0000000882167, 1.0000000888926], "nice": false, "zero": false}, "axis": null},
        "y2": {"field": "q3"}}},
      {"data": {"name": "H"}, "mark": {"type": "tick", "size": 21.6, "color": "#1a1a1a"},
       "encoding": {"x": {"field": "g", "type": "nominal", "scale": {"domain": ["WRG","RL","WS","MD2","MD4","MD8","RG","BA"], "paddingInner": 0, "paddingOuter": 0}, "axis": {"orient": "top", "labels": false, "title": "Power Law, 512 nodes", "titlePadding": 1, "titleColor": "#111"}},
        "y": {"field": "med", "type": "quantitative", "scale": {"domain": [1.0000000882167, 1.0000000888926], "nice": false, "zero": false}, "axis": {"orient": "right", "values": [1.0000000883,1.0000000884,1.0000000885,1.0000000886,1.0000000887,1.0000000888], "labels": false, "title": null, "minExtent": 0}}}},
      {"data": {"name": "H_out"}, "mark": {"type": "circle", "size": 16, "color": "#c8c8c8", "opacity": 1},
       "encoding": {"x": {"field": "g", "type": "nominal", "scale": {"domain": ["WRG","RL","WS","MD2","MD4","MD8","RG","BA"], "paddingInner": 0, "paddingOuter": 0}, "axis": null},
        "y": {"field": "v", "type": "quantitative", "scale": {"domain": [1.0000000882167, 1.0000000888926], "nice": false, "zero": false}, "axis": null}}}
     ]}
   ], "spacing": 0, "align": "each"}
   ]}
  ]}
 ]}
]
}
